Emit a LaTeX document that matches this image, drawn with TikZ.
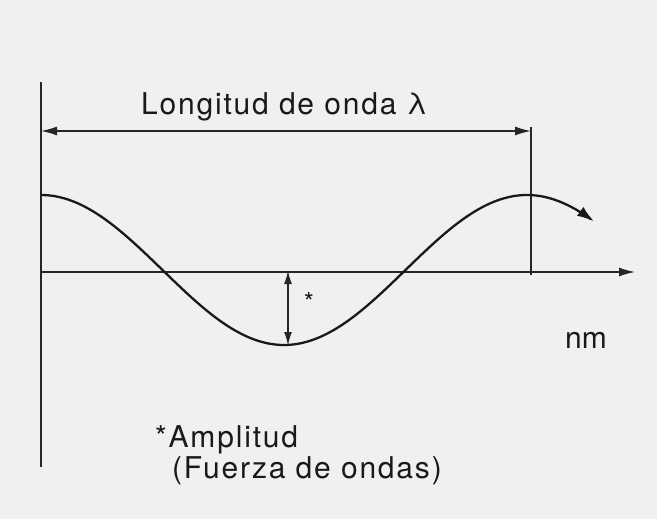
\documentclass[tikz,border=0pt]{standalone}
\usepackage{fontspec}
\setmainfont{TeX Gyre Heros}
\usetikzlibrary{arrows.meta}

\begin{document}
\begin{tikzpicture}[x=1pt, y=-1pt,
  every node/.style={font=\fontsize{30}{36}\selectfont\addfontfeature{LetterSpace=6}, inner sep=0pt, text=black!90},
  line/.style={draw=black!85, line width=1.4pt},
  tip/.style={-{Latex[length=16pt,width=9pt]}},
  wave/.style={draw=black!90, line width=2.3pt}]
% paper and page size
\fill[black!6] (0,0) rectangle (657,519);
\useasboundingbox (0,0) rectangle (657,519);
% axes
\coordinate (ytop) at (41,82);
\coordinate (ybot) at (41,467);
\coordinate (origin) at (41,272);
\coordinate (xend) at (635,272);
\coordinate (lamtop) at (531,127);
\coordinate (lambot) at (531,275);
\coordinate (dimleft) at (41,131);
\coordinate (dimright) at (531,131);
\coordinate (ampzero) at (288,271);
\coordinate (amptrough) at (288,345);
\draw[line] (ytop) -- (ybot);
\draw[line, tip] (origin) -- (xend);
\draw[line] (lamtop) -- (lambot);
\draw[line, {Latex[length=16pt,width=9pt]}-{Latex[length=16pt,width=9pt]}] (dimleft) -- (dimright);
\draw[line, line width=1.1pt, {Latex[length=13pt,width=8pt]}-{Latex[length=13pt,width=8pt]}] (ampzero) -- (amptrough);
% wave
\draw[wave, -{Latex[length=17pt,width=11pt]}] plot[domain=41:594, samples=120, smooth] (\x, {270-75*cos(0.740741*(\x-41))});
% labels
\node[anchor=base west] (lambda) at (141,114) {Longitud de onda λ};
\node (star) at (309,302) {\fontsize{26}{28}\selectfont *};
\node[anchor=base west] (unit) at (565,348) {\addfontfeature{LetterSpace=0}nm};
\node[anchor=base west] (amp) at (155,447) {*Amplitud};
\node[anchor=base west] (force) at (172,478) {(Fuerza de ondas)};
\end{tikzpicture}
\end{document}
